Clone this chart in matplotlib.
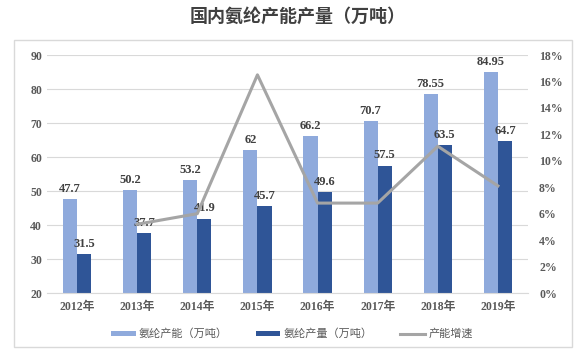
import matplotlib
matplotlib.use('Agg')
import matplotlib.pyplot as plt
import numpy as np
from matplotlib.patches import Rectangle
from matplotlib.ticker import PercentFormatter

# 数据
years = ['2012年', '2013年', '2014年', '2015年', '2016年', '2017年', '2018年', '2019年']
capacity = [47.7, 50.2, 53.2, 62, 66.2, 70.7, 78.55, 84.95]
output = [31.5, 37.7, 41.9, 45.7, 49.6, 57.5, 63.5, 64.7]
growth = [np.nan, 5.2, 6.0, 16.5, 6.8, 6.8, 11.1, 8.1]  # %

cap_labels = ['47.7', '50.2', '53.2', '62', '66.2', '70.7', '78.55', '84.95']
out_labels = ['31.5', '37.7', '41.9', '45.7', '49.6', '57.5', '63.5', '64.7']

col_cap = '#8FAADC'
col_out = '#2F5597'
col_line = '#A5A5A5'
txt_gray = '#595959'

num_font = ['Liberation Serif', 'Noto Sans CJK SC']
cjk_font = ['Noto Sans CJK SC', 'DejaVu Sans']

fig = plt.figure(figsize=(5.84, 3.55), dpi=100)
fig.patch.set_facecolor('white')

# 外框
fig.patches.append(Rectangle((14 / 584, 1 - 347 / 355), 558 / 584, 307 / 355,
                             transform=fig.transFigure, fill=False,
                             edgecolor='#D9D9D9', linewidth=1.0))

fig.text(0.51, 1 - 16 / 355, '国内氨纶产能产量（万吨）', ha='center', va='center',
         fontsize=13, fontweight='bold', color='#404040', family=cjk_font)

ax = fig.add_axes([47 / 584, 1 - 293 / 355, 481 / 584, 238 / 355])
x = np.arange(len(years))
w = 0.235

b1 = ax.bar(x - w / 2, capacity, w, color=col_cap, zorder=2)
b2 = ax.bar(x + w / 2, output, w, color=col_out, zorder=2)

ax.set_ylim(20, 90)
ax.set_yticks(range(20, 91, 10))
ax.set_xlim(-0.5, len(years) - 0.5)
ax.set_xticks(x)
ax.set_xticklabels(years)
ax.grid(axis='y', color='#D9D9D9', linewidth=0.8, zorder=0)
for s in ['top', 'right', 'left']:
    ax.spines[s].set_visible(False)
ax.spines['bottom'].set_color('#D9D9D9')
ax.tick_params(axis='both', length=0, colors=txt_gray, labelsize=8.5)
ax.tick_params(axis='x', pad=6)
for t in ax.get_xticklabels() + ax.get_yticklabels():
    t.set_family(num_font)
    t.set_fontweight('bold')

for xi, v, lab in zip(x, capacity, cap_labels):
    ax.text(xi - w / 2, v + 1.2, lab, ha='center', va='bottom', fontsize=9,
            fontweight='bold', color='#404040', family=num_font, zorder=4)
for xi, v, lab in zip(x, output, out_labels):
    ax.text(xi + w / 2, v + 1.2, lab, ha='center', va='bottom', fontsize=9,
            fontweight='bold', color='#404040', family=num_font, zorder=4)

# 增速折线画在柱子上方
ax2 = ax.twinx()
l1, = ax2.plot(x, growth, color=col_line, linewidth=2.2, zorder=3)
ax2.set_ylim(0, 18)
ax2.set_yticks(range(0, 19, 2))
ax2.yaxis.set_major_formatter(PercentFormatter(decimals=0))
for s in ['top', 'right', 'left', 'bottom']:
    ax2.spines[s].set_visible(False)
ax2.tick_params(axis='y', length=0, colors=txt_gray, labelsize=8.5, pad=8)
for t in ax2.get_yticklabels():
    t.set_family(num_font)
    t.set_fontweight('bold')
ax2.patch.set_visible(False)

fig.legend([b1, b2, l1], ['氨纶产能（万吨）', '氨纶产量（万吨）', '产能增速'],
           loc='center', bbox_to_anchor=(0.5, 1 - 334 / 355), ncol=3, frameon=False,
           prop={'family': cjk_font, 'size': 8}, labelcolor=txt_gray,
           handlelength=2.2, handleheight=0.4, columnspacing=2.5, handletextpad=0.3)

fig.savefig('out.png', dpi=100)
